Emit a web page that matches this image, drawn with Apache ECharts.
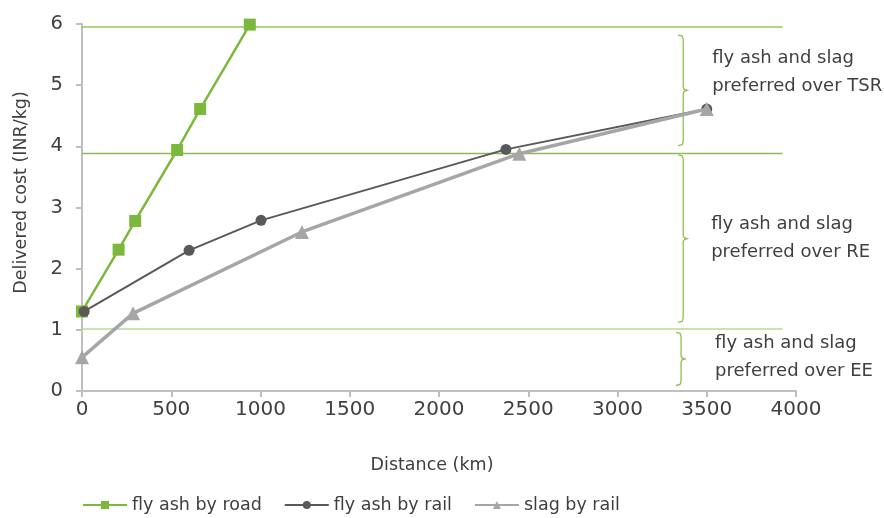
<!DOCTYPE html>
<html>
<head>
<meta charset="utf-8">
<script src="https://cdn.jsdelivr.net/npm/echarts@6/dist/echarts.min.js"></script>
<style>html,body{margin:0;padding:0;background:#fff}#c{width:884px;height:518px}</style>
</head>
<body>
<div id="c"></div>
<script>
// ---- data ----
var roadX = [0, 205, 298, 533, 662, 940];
var roadY = [1.30, 2.31, 2.78, 3.94, 4.61, 5.99];
var railX = [12, 600, 1003, 2375, 3500];
var railY = [1.30, 2.30, 2.79, 3.95, 4.61];
var slagX = [0, 286, 1232, 2450, 3500];
var slagY = [0.55, 1.27, 2.60, 3.88, 4.61];
var seriesNames = ['fly ash by road', 'fly ash by rail', 'slag by rail'];
var thresholdY = [5.95, 3.88, 1.01];
var thresholdEndX = 3925;
var braceX = [3368, 3368, 3356];
var braceTop = [5.82, 3.86, 0.96];
var braceBottom = [4.01, 1.12, 0.09];
var braceLabels = ['fly ash and slag\npreferred over TSR', 'fly ash and slag\npreferred over RE', 'fly ash and slag\npreferred over EE'];
var labelY = [5.21, 2.50, 0.55];
var xTicks = [0, 500, 1000, 1500, 2000, 2500, 3000, 3500, 4000];
var yTicks = [0, 1, 2, 3, 4, 5, 6];

function pairs(xs, ys) { return xs.map(function (x, i) { return [x, ys[i]]; }); }

var FONT = 'DejaVu Sans';
var TXT = '#404040';
var LABEL_DX = [29, 28, 34];
var chart = echarts.init(document.getElementById('c'), null, {renderer: 'canvas'});

var braceData = braceX.map(function (x, i) { return [x, braceTop[i], braceBottom[i], labelY[i], i]; });

var option = {
  animation: false,
  grid: {left: 82, right: 88, top: 24, bottom: 127},
  textStyle: {fontFamily: FONT},
  legend: {
    left: 82, top: 496, padding: 0, itemWidth: 44, itemHeight: 10, itemGap: 22,
    textStyle: {fontFamily: FONT, fontSize: 17.5, color: TXT},
    data: seriesNames
  },
  xAxis: {
    type: 'value', min: xTicks[0], max: xTicks[xTicks.length - 1], interval: 500,
    name: 'Distance (km)', nameLocation: 'middle', nameGap: 65,
    nameTextStyle: {fontFamily: FONT, fontSize: 17.5, color: TXT, padding: [0, 14, 0, 0]},
    axisLine: {show: true, lineStyle: {color: '#c0c0c0', width: 2}},
    axisTick: {show: true, length: 6, lineStyle: {color: '#c0c0c0', width: 2}},
    axisLabel: {fontFamily: FONT, fontSize: 20, color: TXT, margin: 9, formatter: function (v) { return String(v); }},
    splitLine: {show: false}
  },
  yAxis: {
    type: 'value', min: yTicks[0], max: yTicks[yTicks.length - 1], interval: 1,
    name: 'Delivered cost (INR/kg)', nameLocation: 'middle', nameGap: 52,
    nameTextStyle: {fontFamily: FONT, fontSize: 17.5, color: TXT, padding: [0, 0, 0, 30]},
    axisLine: {show: true, lineStyle: {color: '#c0c0c0', width: 2}},
    axisTick: {show: true, length: 6, lineStyle: {color: '#c0c0c0', width: 2}},
    axisLabel: {fontFamily: FONT, fontSize: 19.5, color: TXT, margin: 19},
    splitLine: {show: false}
  },
  series: [
    {
      name: seriesNames[0], type: 'line', data: pairs(roadX, roadY),
      symbol: 'rect', symbolSize: 12, z: 3,
      lineStyle: {color: '#7cb83c', width: 2.5}, itemStyle: {color: '#7cb83c'},
      markLine: {
        silent: true, symbol: 'none', label: {show: false}, z: 1,
        data: [
          [{coord: [0, thresholdY[0]], lineStyle: {color: '#97c75f', width: 1.5, type: 'solid'}}, {coord: [thresholdEndX, thresholdY[0]]}],
          [{coord: [0, thresholdY[1]], lineStyle: {color: '#8cba58', width: 1.3, type: 'solid'}}, {coord: [thresholdEndX, thresholdY[1]]}],
          [{coord: [0, thresholdY[2]], lineStyle: {color: '#b9da95', width: 1.5, type: 'solid'}}, {coord: [thresholdEndX, thresholdY[2]]}]
        ]
      }
    },
    {
      name: seriesNames[1], type: 'line', data: pairs(railX, railY),
      symbol: 'circle', symbolSize: 11, z: 4,
      lineStyle: {color: '#595959', width: 2}, itemStyle: {color: '#595959'}
    },
    {
      name: seriesNames[2], type: 'line', data: pairs(slagX, slagY),
      symbol: 'triangle', symbolSize: 14, z: 5,
      lineStyle: {color: '#a6a6a6', width: 3.5}, itemStyle: {color: '#a6a6a6'}
    },
    {
      type: 'custom', silent: true, z: 2,
      data: braceData,
      renderItem: function (params, api) {
        var top = api.coord([api.value(0), api.value(1)]);
        var bot = api.coord([api.value(0), api.value(2)]);
        var x = top[0], yt = top[1], yb = bot[1], ym = (yt + yb) / 2;
        var lab = api.coord([api.value(0), api.value(3)]);
        var idx = api.value(4);
        return {
          type: 'group',
          children: [
            {type: 'polyline', shape: {points: [[x - 5, yt], [x - 1, yt + 1], [x, yt + 4], [x, ym - 3], [x + 1, ym - 1], [x + 4, ym], [x + 1, ym + 1], [x, ym + 3], [x, yb - 4], [x - 1, yb - 1], [x - 5, yb]]},
              style: {stroke: '#8cc152', lineWidth: 1.3, fill: null}},
            {type: 'text', x: x + LABEL_DX[idx], y: lab[1],
              style: {text: braceLabels[idx], font: '18px "' + FONT + '"', fill: TXT, verticalAlign: 'middle', lineHeight: 28}}
          ]
        };
      }
    }
  ]
};
chart.setOption(option);
</script>
</body>
</html>
